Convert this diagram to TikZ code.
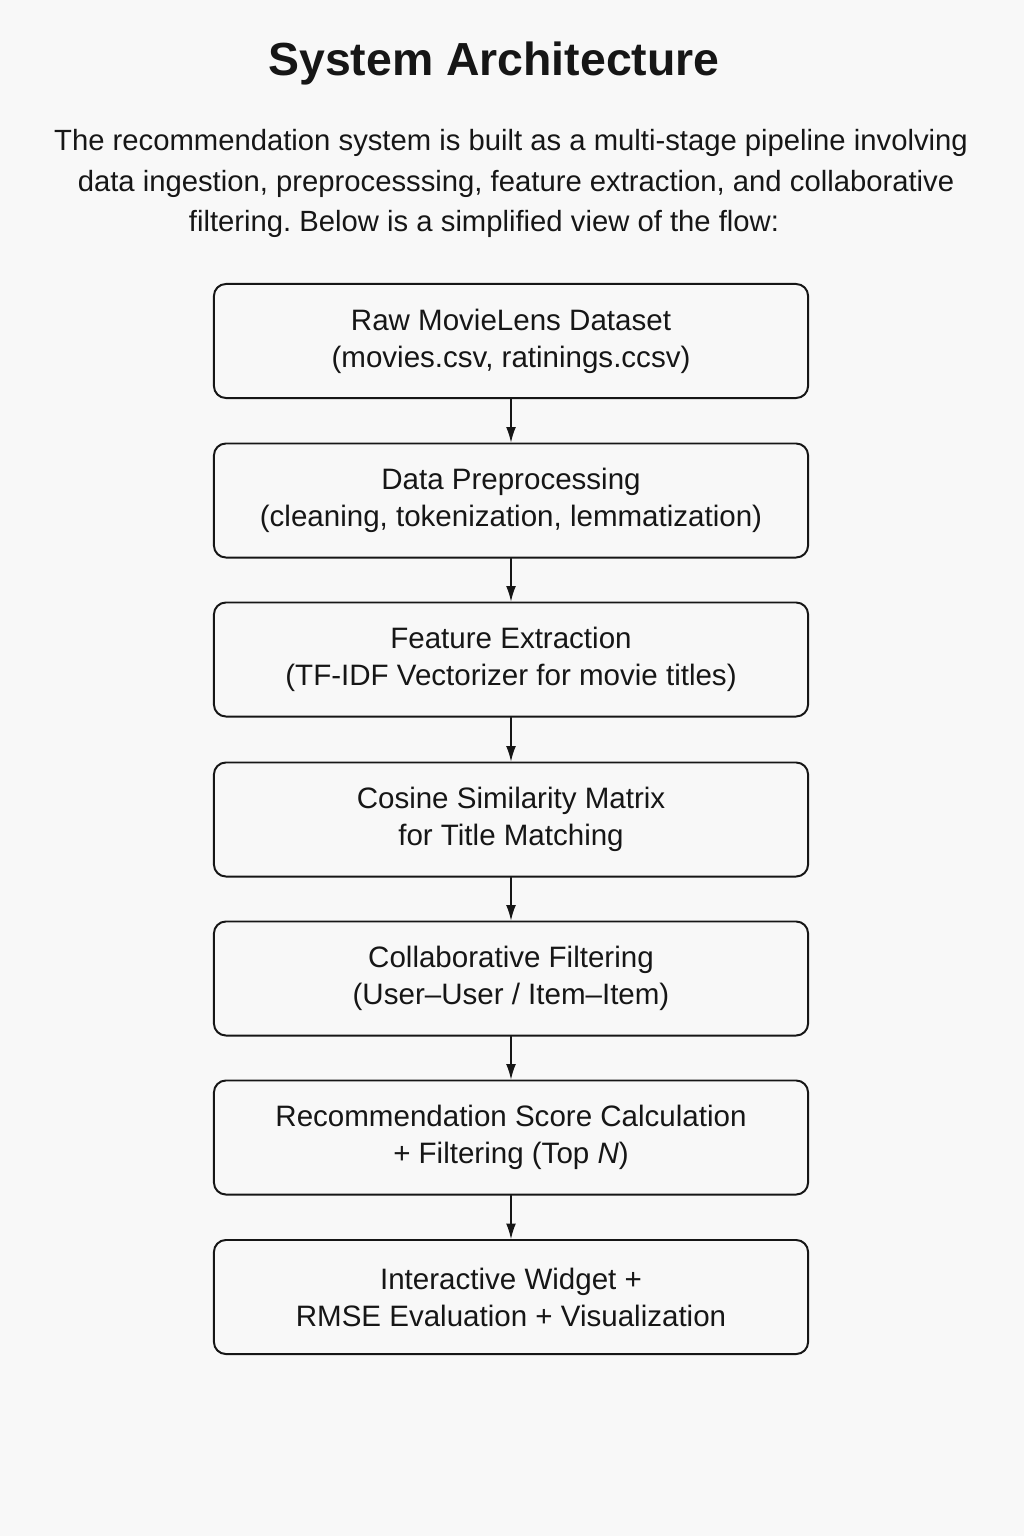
\documentclass[tikz,border=0pt]{standalone}
\usepackage{fontspec}
\setmainfont{Liberation Sans}
\usepackage{tikz}
\usetikzlibrary{shapes,arrows,arrows.meta}
\tikzset{>={Latex[length=11pt,width=7pt]}}
\definecolor{bgcol}{RGB}{248,248,248}
\definecolor{inkcol}{RGB}{22,22,22}
\tikzset{
	stage/.style={draw=inkcol,line width=1.4pt,rounded corners=8.5pt,fill=bgcol,
		minimum width=14.85cm,minimum height=2.85cm,align=center,text=inkcol,
		font=\fontsize{21}{26.3}\selectfont},
	bodyline/.style={text=inkcol,font=\fontsize{20.8}{28}\selectfont},
	flow/.style={->,draw=inkcol,line width=0.9pt}
}
\frenchspacing
\begin{document}
\begin{tikzpicture}[line cap=round,line join=round,x=0.025cm,y=-0.025cm]
	\fill[bgcol] (0,0) rectangle (1024,1536);
	\useasboundingbox (0,0) rectangle (1024,1536);
	% heading and intro
	\node[text=inkcol,font=\fontsize{33}{38}\selectfont\bfseries] (title) at (494,64) {System Architecture};
	\node[bodyline] (intro1) at (511,143) {The recommendation system is built as a multi-stage pipeline involving};
	\node[bodyline] (intro2) at (516,184) {data ingestion, preprocesssing, feature extraction, and collaborative};
	\node[bodyline] (intro3) at (484,224) {filtering. Below is a simplified view of the flow:};
	% pipeline stages
	\node[stage] (raw) at (511,341) {Raw MovieLens Dataset\\(movies.csv, ratinings.ccsv)};
	\node[stage] (prep) at (511,500.5) {Data Preprocessing\\(cleaning, tokenization, lemmatization)};
	\node[stage] (feat) at (511,659.5) {Feature Extraction\\(TF-IDF Vectorizer for movie titles)};
	\node[stage] (cosine) at (511,819.5) {Cosine Similarity Matrix\\for Title Matching};
	\node[stage] (collab) at (511,978.5) {Collaborative Filtering\\(User--User / Item--Item)};
	\node[stage] (score) at (511,1137.5) {Recommendation Score Calculation\\+ Filtering (Top \textit{N})};
	\node[stage] (widget) at (511,1297) {Interactive Widget +\\RMSE Evaluation + Visualization};
	% arrows
	\foreach \a/\b in {raw/prep,prep/feat,feat/cosine,cosine/collab,collab/score,score/widget}
	\draw[flow] (\a) -- (\b);
\end{tikzpicture}
\end{document}
